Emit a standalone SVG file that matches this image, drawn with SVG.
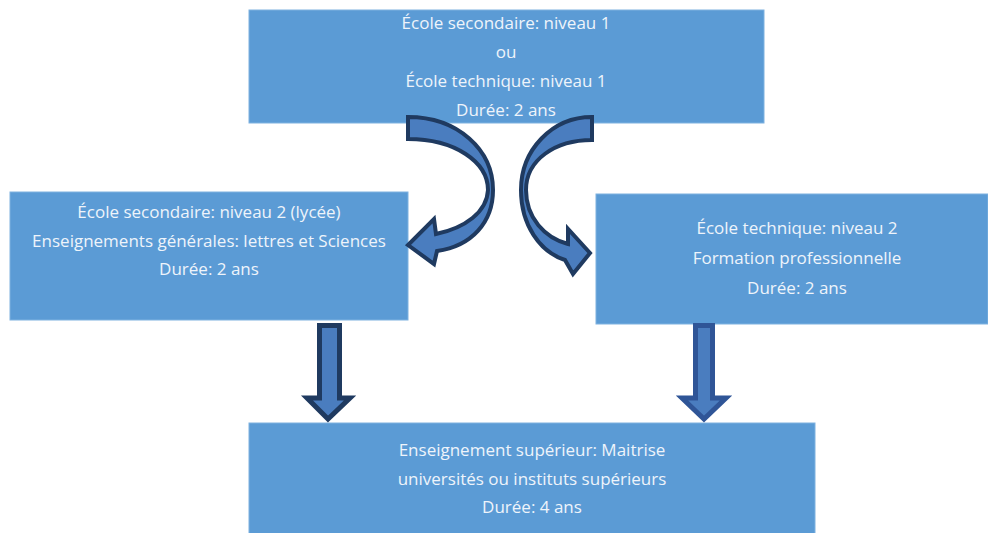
<svg xmlns="http://www.w3.org/2000/svg" width="988" height="533" viewBox="0 0 988 533">
<style>
.box{fill:#5b9bd5;stroke:#7fb2e0;stroke-width:1}
.t{font-family:"Open Sans","Liberation Sans",sans-serif;font-size:17px;fill:#eef4fb;text-anchor:middle}
.arr{fill:#4a7dbf;stroke:#1f3a60;stroke-width:4;stroke-linejoin:miter}
</style>
<rect width="988" height="533" fill="#ffffff"/>
<g id="top">
<rect class="box" x="249" y="10" width="515" height="113"/>
<text class="t" x="506" y="29">École secondaire: niveau 1</text>
<text class="t" x="506" y="58">ou</text>
<text class="t" x="506" y="87">École technique: niveau 1</text>
<text class="t" x="506" y="116">Durée: 2 ans</text>
</g>
<g id="left">
<rect class="box" x="10" y="192" width="398" height="128"/>
<text class="t" x="209" y="218">École secondaire: niveau 2 (lycée)</text>
<text class="t" x="209" y="247">Enseignements générales: lettres et Sciences</text>
<text class="t" x="209" y="275">Durée: 2 ans</text>
</g>
<g id="right">
<rect class="box" x="596" y="194" width="392" height="130"/>
<text class="t" x="797" y="234">École technique: niveau 2</text>
<text class="t" x="797" y="264">Formation professionnelle</text>
<text class="t" x="797" y="294">Durée: 2 ans</text>
</g>
<g id="bottom">
<rect class="box" x="249" y="423" width="566" height="112"/>
<text class="t" x="532" y="456">Enseignement supérieur: Maitrise</text>
<text class="t" x="532" y="485">universités ou instituts supérieurs</text>
<text class="t" x="532" y="513">Durée: 4 ans</text>
</g>
<g id="connectors">
<path class="arr" d="M408 117 C458 117 493 150 493 190 C493 222 472 246 437 251 L434 264 L408 245 L434 219 L436 234 C465 228 487 212 488 190 C488 162 455 139 408 139 Z"/>
<path class="arr" d="M592 117 C552 117 521 150 521 190 C521 225 540 252 565 260 L573 274 L590 253 L568 229 L568 244 C545 238 526 218 526 190 C526 160 555 140 592 140 Z"/>
<path class="arr" style="stroke-width:5" d="M319.5 325.5 H339.5 V398 H350 L328 419 L307 398 H319.5 Z"/>
<path class="arr" style="stroke-width:5;stroke:#2f5597" d="M695.5 325.5 H712.5 V398 H726 L704 419 L682 398 H695.5 Z"/>
</g>
</svg>
